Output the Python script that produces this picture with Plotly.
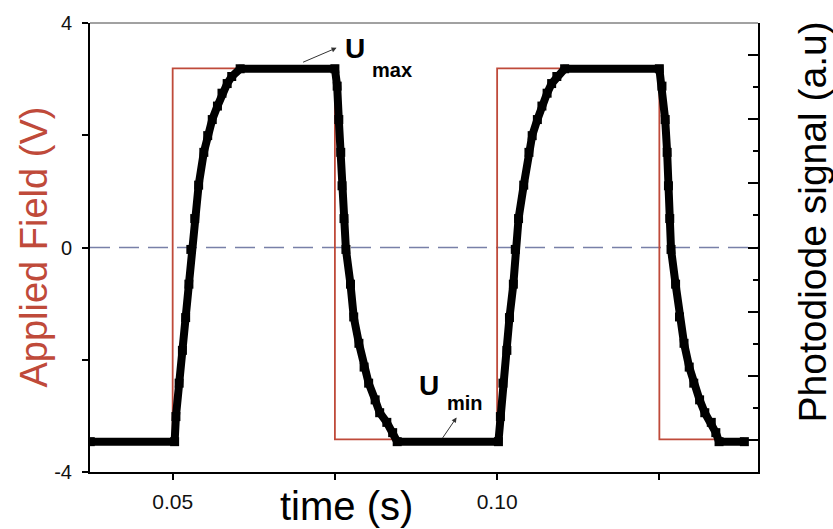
import plotly.graph_objects as go

# ---- data ----
# Applied field (square wave, left axis, V)
field_t = [0.0373, 0.050, 0.075, 0.100, 0.125, 0.1381]
field_v = [-3.42, 3.19, -3.42, 3.19, -3.42, -3.42]

# Photodiode signal (right axis, a.u.)
signal_t = [0.0373, 0.0503, 0.0505, 0.0510, 0.0515, 0.0520, 0.0525, 0.0528,
            0.0534, 0.0540, 0.0548, 0.0554, 0.0561, 0.0569, 0.0576, 0.0584,
            0.0591, 0.0604,
            0.0750, 0.07535, 0.0756, 0.0759, 0.0761, 0.0764, 0.0767, 0.0774,
            0.0779, 0.0787, 0.0795, 0.0802, 0.0812, 0.0819, 0.0830, 0.0839,
            0.0846,
            0.1002, 0.1005, 0.1009, 0.1015, 0.1019, 0.1025, 0.1028, 0.1033,
            0.1041, 0.1049, 0.1054, 0.1062, 0.1069, 0.1077, 0.1084, 0.1092,
            0.1104,
            0.1250, 0.1254, 0.1259, 0.1262, 0.1264, 0.1266, 0.1268, 0.1275,
            0.1281, 0.1288, 0.1296, 0.1303, 0.1312, 0.1320, 0.1330, 0.1337,
            0.1342, 0.1381]
signal_v = [-3.02, -3.02, -2.63, -2.11, -1.60, -1.09, -0.57, -0.03,
            0.45, 0.97, 1.48, 1.74, 1.99, 2.20, 2.40, 2.55,
            2.66, 2.78,
            2.78, 2.51, 1.99, 1.48, 0.96, 0.45, -0.03, -0.57,
            -1.08, -1.49, -1.86, -2.11, -2.37, -2.57, -2.72, -2.88,
            -3.02,
            -3.02, -2.63, -2.11, -1.60, -1.09, -0.57, -0.03, 0.45,
            0.97, 1.48, 1.74, 1.99, 2.20, 2.40, 2.55, 2.66,
            2.78,
            2.78, 2.51, 1.99, 1.48, 0.96, 0.45, -0.03, -0.57,
            -1.08, -1.49, -1.86, -2.11, -2.37, -2.57, -2.72, -2.88,
            -3.02, -3.02]

x_tickvals = [0.05, 0.075, 0.10, 0.125]
x_ticktext = ["0.05", "", "0.10", ""]
y_tickvals = [-4, -2, 0, 2, 4]
y_ticktext = ["-4", "", "0", "", "4"]

RED = "#bf4a3a"
FONT = "Liberation Sans, Arial, sans-serif"

fig = go.Figure()
fig.add_trace(go.Scatter(x=field_t, y=field_v, mode="lines", line_shape="hv",
                         line=dict(color=RED, width=1.8), yaxis="y",
                         showlegend=False, hoverinfo="skip"))
fig.add_trace(go.Scatter(x=signal_t, y=signal_v, mode="lines+markers",
                         line=dict(color="black", width=8),
                         marker=dict(symbol="square", size=9, color="black",
                                     line=dict(width=0)),
                         yaxis="y2", showlegend=False, hoverinfo="skip"))

fig.update_layout(
    width=833, height=529,
    margin=dict(l=90, r=75, t=18, b=57),
    paper_bgcolor="white", plot_bgcolor="white",
    font=dict(family=FONT, color="black"),
    xaxis=dict(range=[0.03726, 0.1402], tickvals=x_tickvals, ticktext=x_ticktext,
               ticks="outside", ticklen=6, tickwidth=1.5, tickcolor="black",
               showline=True, linecolor="black", linewidth=2, showgrid=False,
               zeroline=False, tickfont=dict(size=21, family=FONT, color="#111111"),
               ticklabelstandoff=4),
    yaxis=dict(range=[-4, 4], tickvals=y_tickvals, ticktext=y_ticktext,
               ticks="outside", ticklen=6, tickwidth=1.5, tickcolor="black",
               showline=True, linecolor="black", linewidth=2, showgrid=False,
               zeroline=False, tickfont=dict(size=20, family=FONT, color="#111111"),
               ticklabelstandoff=6),
    yaxis2=dict(range=[-3.492, 3.492], overlaying="y", side="right",
                dtick=1, tick0=0, ticks="inside", ticklen=10, tickwidth=1.5,
                tickcolor="black", showticklabels=False,
                minor=dict(dtick=0.5, ticks="inside", ticklen=5, tickwidth=1.5,
                           tickcolor="black"),
                showline=True, linecolor="black", linewidth=1.5,
                showgrid=False, zeroline=False),
)

# zero dashed line and top frame line
fig.add_shape(type="line", xref="paper", yref="y", x0=0, x1=1, y0=0, y1=0,
              line=dict(color="#7880a8", width=1.3, dash="20px,9px"), layer="below")
fig.add_shape(type="line", xref="paper", yref="paper", x0=0, x1=1, y0=1, y1=1,
              line=dict(color="#444444", width=1))

# axis titles
fig.add_annotation(text="time (s)", xref="paper", yref="paper", x=0.384, y=-0.075,
                   showarrow=False, font=dict(size=40, family=FONT, color="black"),
                   xanchor="center", yanchor="middle")
fig.add_annotation(text="Applied Field (V)", xref="paper", yref="paper", x=-0.0853, y=0.5,
                   textangle=-90, showarrow=False,
                   font=dict(size=38, family=FONT, color=RED),
                   xanchor="center", yanchor="middle")
fig.add_annotation(text="Photodiode signal (a.u)", xref="paper", yref="paper",
                   x=1.0808, y=0.558, textangle=-90, showarrow=False,
                   font=dict(size=39, family=FONT, color="black"),
                   xanchor="center", yanchor="middle")

# U_max / U_min labels and arrows
fig.add_annotation(text="<b>U</b>", x=0.07808, y=3.545, showarrow=False,
                   font=dict(size=28, family=FONT), xanchor="center", yanchor="middle")
fig.add_annotation(text="<b>max</b>", x=0.08378, y=3.157, showarrow=False,
                   font=dict(size=20, family=FONT), xanchor="center", yanchor="middle")
fig.add_annotation(text="", x=0.07526, y=3.557, ax=-35, ay=15, showarrow=True,
                   arrowhead=2, arrowsize=1, arrowwidth=1, arrowcolor="#333333",
                   standoff=0)
fig.add_annotation(text="<b>U</b>", x=0.08948, y=-2.45, showarrow=False,
                   font=dict(size=28, family=FONT), xanchor="center", yanchor="middle")
fig.add_annotation(text="<b>min</b>", x=0.09503, y=-2.77, showarrow=False,
                   font=dict(size=20, family=FONT), xanchor="center", yanchor="middle")
fig.add_annotation(text="", x=0.09375, y=-3.028, ax=-15, ay=22, showarrow=True,
                   arrowhead=2, arrowsize=1, arrowwidth=1, arrowcolor="#333333",
                   standoff=0)

fig.write_html("out.html")
